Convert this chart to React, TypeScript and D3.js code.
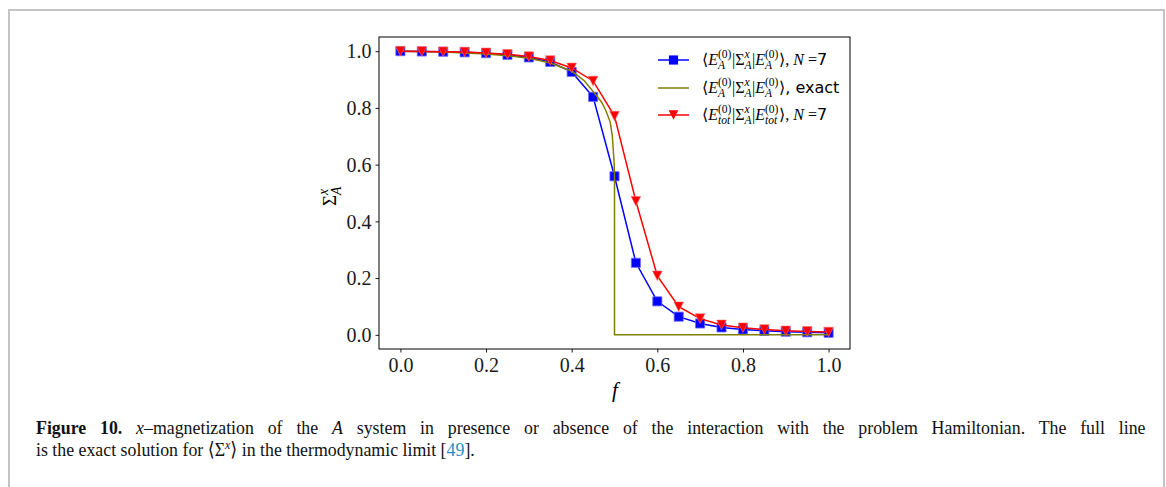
import React, { useEffect, useRef } from "react";
import * as d3 from "d3";

// f values 0 .. 1 in steps of 0.05
const fValues = [0, 0.05, 0.1, 0.15, 0.2, 0.25, 0.3, 0.35, 0.4, 0.45, 0.5, 0.55, 0.6, 0.65, 0.7, 0.75, 0.8, 0.85, 0.9, 0.95, 1.0];
const sigmaA = [1.0, 0.999, 0.998, 0.996, 0.993, 0.987, 0.978, 0.962, 0.927, 0.839, 0.559, 0.254, 0.118, 0.064, 0.04, 0.026, 0.019, 0.014, 0.011, 0.009, 0.007];
const sigmaTot = [1.0, 0.999, 0.998, 0.997, 0.994, 0.989, 0.981, 0.967, 0.941, 0.895, 0.771, 0.471, 0.208, 0.099, 0.057, 0.035, 0.025, 0.019, 0.014, 0.012, 0.01];
// exact curve
const exactF = [0, 0.05, 0.1, 0.15, 0.2, 0.25, 0.3, 0.35, 0.4, 0.43, 0.45, 0.47, 0.48, 0.49, 0.495, 0.499, 0.5, 0.5, 1.0];
const exactV = [1.0, 0.999, 0.997, 0.994, 0.99, 0.984, 0.975, 0.958, 0.93, 0.895, 0.858, 0.82, 0.79, 0.75, 0.7, 0.61, 0.56, 0, 0];
const ticks = [0, 0.2, 0.4, 0.6, 0.8, 1.0];

type Piece = { t?: string; it?: boolean; sans?: boolean; sup?: string; sub?: string; supIt?: boolean; subIt?: boolean };

const serif = "'Liberation Serif', 'DejaVu Serif', serif";

function drawMath(g: any, x: number, y: number, pieces: Piece[], size: number) {
  let cx = x;
  const put = (t: string, px: number, py: number, sz: number, it: boolean, sans?: boolean) => {
    const el = g
      .append("text")
      .attr("x", px)
      .attr("y", py)
      .style("white-space", "pre")
      .style("font-family", sans ? "'DejaVu Sans', sans-serif" : serif)
      .style("font-style", it ? "italic" : "normal")
      .style("font-size", sz + "px")
      .text(t);
    return (el.node() as SVGTextElement).getComputedTextLength();
  };
  for (const p of pieces) {
    if (p.t !== undefined) {
      cx += put(p.t, cx, y, size, !!p.it, p.sans);
    } else {
      let w = 0;
      if (p.sup) w = Math.max(w, put(p.sup, cx, y - size * 0.42, size * 0.72, !!p.supIt));
      if (p.sub) w = Math.max(w, put(p.sub, cx, y + size * 0.28, size * 0.72, !!p.subIt));
      cx += w + 0.5;
    }
  }
  return cx;
}

export default function App() {
  const ref = useRef<SVGSVGElement>(null);

  useEffect(() => {
    const svg = d3.select(ref.current);
    svg.selectAll("*").remove();

    const left = 379, right = 850, top = 37, bottom = 349;
    const x = d3.scaleLinear().domain([-0.05, 1.05]).range([left, right]);
    const y = d3.scaleLinear().domain([-0.05, 1.05]).range([bottom, top]);

    // outer frame
    svg.append("rect").attr("x", 9).attr("y", 10).attr("width", 1155).attr("height", 520)
      .attr("fill", "white").attr("stroke", "#c4c4c4").attr("stroke-width", 2);

    // axes
    const xa = svg.append("g").attr("transform", `translate(0,${bottom})`)
      .call(d3.axisBottom(x).tickValues(ticks).tickFormat(d3.format(".1f")).tickSize(3.5).tickPadding(4));
    const ya = svg.append("g").attr("transform", `translate(${left},0)`)
      .call(d3.axisLeft(y).tickValues(ticks).tickFormat(d3.format(".1f")).tickSize(3.5).tickPadding(4));
    [xa, ya].forEach((a) => {
      a.select(".domain").remove();
      a.selectAll("line").attr("stroke", "#000").attr("stroke-width", 0.9);
      a.selectAll("text").style("font-family", serif).style("font-size", "20px").attr("fill", "#1a1a1a");
    });
    xa.selectAll("text").attr("dy", "0.75em");
    ya.selectAll("text").attr("dy", "0.34em");

    const line = d3.line<[number, number]>().x((d) => x(d[0])).y((d) => y(d[1]));

    // blue series
    const blue = fValues.map((f, i) => [f, sigmaA[i]] as [number, number]);
    svg.append("path").attr("d", line(blue)).attr("fill", "none").attr("stroke", "#0000ff").attr("stroke-width", 1.5);
    const sq = d3.symbol().type(d3.symbolSquare).size(84);
    svg.append("g").selectAll("path").data(blue).enter().append("path")
      .attr("d", sq()).attr("transform", (d) => `translate(${x(d[0])},${y(d[1])})`)
      .attr("fill", "#0000ff").attr("stroke", "#6f6fff").attr("stroke-width", 0.8);

    // exact
    const exact = exactF.map((f, i) => [f, exactV[i]] as [number, number]);
    svg.append("path").attr("d", line(exact)).attr("fill", "none").attr("stroke", "#808000").attr("stroke-width", 1.5);

    // red series
    const red = fValues.map((f, i) => [f, sigmaTot[i]] as [number, number]);
    svg.append("path").attr("d", line(red)).attr("fill", "none").attr("stroke", "#ff0000").attr("stroke-width", 1.5);
    const tri = (r: number) => {
      const p = d3.path();
      p.moveTo(0, r); p.lineTo(-r, -r); p.lineTo(r, -r); p.closePath();
      return p.toString();
    };
    svg.append("g").selectAll("path").data(red).enter().append("path")
      .attr("d", tri(4.8)).attr("transform", (d) => `translate(${x(d[0])},${y(d[1])})`)
      .attr("fill", "#ff0000").attr("stroke", "#ff7070").attr("stroke-width", 0.6);

    // frame of axes
    svg.append("rect").attr("x", left).attr("y", top).attr("width", right - left).attr("height", bottom - top)
      .attr("fill", "none").attr("stroke", "#000").attr("stroke-width", 1);

    // axis labels
    svg.append("text").attr("x", 615).attr("y", 397).attr("text-anchor", "middle")
      .style("font-family", serif).style("font-style", "italic").style("font-size", "21px").text("f");
    const yl = svg.append("g").attr("transform", "translate(336,206) rotate(-90)");
    drawMath(yl, 0, 0, [{ t: "Σ" }, { sup: "x", sub: "A", supIt: true, subIt: true }], 19);

    // legend
    const lg = svg.append("g");
    const rows: { color: string; marker: string; y: number; pieces: Piece[] }[] = [
      {
        color: "#0000ff", marker: "sq", y: 60,
        pieces: [{ t: "⟨" }, { t: "E", it: true }, { sup: "(0)", sub: "A", subIt: true }, { t: "|Σ" }, { sup: "x", sub: "A", supIt: true, subIt: true },
          { t: "|" }, { t: "E", it: true }, { sup: "(0)", sub: "A", subIt: true }, { t: "⟩, " }, { t: "N", it: true }, { t: " =" }, { t: "7", sans: true }],
      },
      {
        color: "#808000", marker: "none", y: 88,
        pieces: [{ t: "⟨" }, { t: "E", it: true }, { sup: "(0)", sub: "A", subIt: true }, { t: "|Σ" }, { sup: "x", sub: "A", supIt: true, subIt: true },
          { t: "|" }, { t: "E", it: true }, { sup: "(0)", sub: "A", subIt: true }, { t: "⟩" }, { t: ", exact", sans: true }],
      },
      {
        color: "#ff0000", marker: "tri", y: 115,
        pieces: [{ t: "⟨" }, { t: "E", it: true }, { sup: "(0)", sub: "tot", subIt: true }, { t: "|Σ" }, { sup: "x", sub: "A", supIt: true, subIt: true },
          { t: "|" }, { t: "E", it: true }, { sup: "(0)", sub: "tot", subIt: true }, { t: "⟩, " }, { t: "N", it: true }, { t: " =" }, { t: "7", sans: true }],
      },
    ];
    rows.forEach((r) => {
      lg.append("line").attr("x1", 658).attr("x2", 689).attr("y1", r.y).attr("y2", r.y)
        .attr("stroke", r.color).attr("stroke-width", 1.5);
      if (r.marker === "sq") lg.append("path").attr("d", sq()).attr("transform", `translate(673.5,${r.y})`).attr("fill", r.color);
      if (r.marker === "tri") lg.append("path").attr("d", tri(4.8)).attr("transform", `translate(673.5,${r.y})`).attr("fill", r.color);
      drawMath(lg, 702, r.y + 5, r.pieces, 16);
    });

    // caption: a condensed serif look, made by squeezing Liberation Serif horizontally
    const capSize = "19.5px";
    const g1 = svg.append("g");
    const cap1 = g1.append("text").attr("x", 0).attr("y", 0)
      .style("font-family", serif).style("font-size", capSize).attr("fill", "#111");
    cap1.append("tspan").style("font-weight", "bold").text("Figure 10.");
    cap1.append("tspan").text(" ");
    cap1.append("tspan").style("font-style", "italic").text("x");
    cap1.append("tspan").text("–magnetization of the ");
    cap1.append("tspan").style("font-style", "italic").text("A");
    cap1.append("tspan").text(" system in presence or absence of the interaction with the problem Hamiltonian. The full line");

    const g2 = svg.append("g");
    const cap2 = g2.append("text").attr("x", 0).attr("y", 0)
      .style("font-family", serif).style("font-size", capSize).attr("fill", "#111");
    cap2.append("tspan").text("is the exact solution for ⟨Σ");
    cap2.append("tspan").style("font-style", "italic").style("font-size", "13px").attr("dy", -7.5).text("x");
    cap2.append("tspan").attr("dy", 7.5).text("⟩ in the thermodynamic limit [");
    cap2.append("tspan").attr("fill", "#1f8fc8").text("49");
    cap2.append("tspan").text("].");

    const w2 = (cap2.node() as SVGTextElement).getComputedTextLength();
    const s = 439 / w2;
    g2.attr("transform", `translate(36,456) scale(${s},1)`);
    const w1 = (cap1.node() as SVGTextElement).getComputedTextLength();
    const gaps = (cap1.text().match(/ /g) || []).length;
    cap1.attr("word-spacing", Math.max(0, (1110 / s - w1) / gaps));
    g1.attr("transform", `translate(36,434) scale(${s},1)`);
  }, []);

  return (
    <div style={{ position: "fixed", left: 0, top: 0, width: 1166, height: 487, background: "white" }}>
      <svg ref={ref} width={1166} height={487} />
    </div>
  );
}
